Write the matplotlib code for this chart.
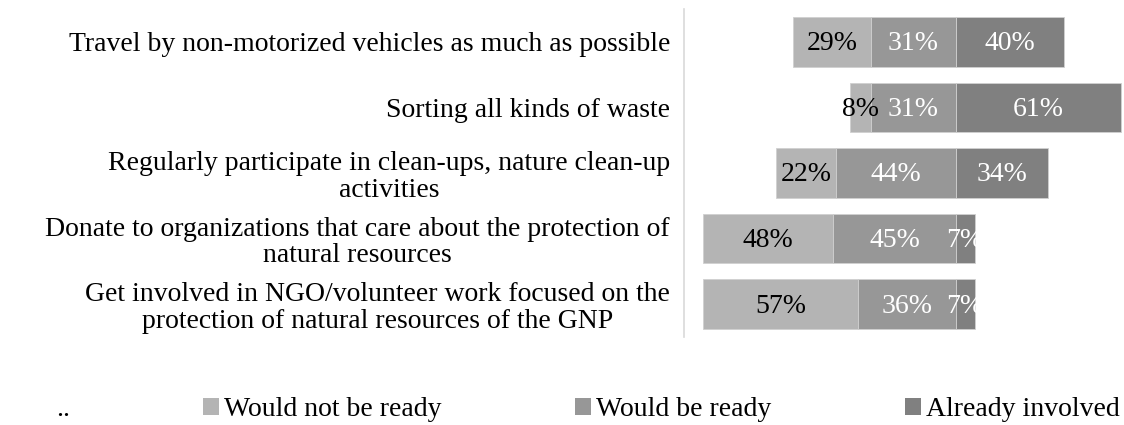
import matplotlib
matplotlib.use("Agg")
import matplotlib.pyplot as plt
from matplotlib.patches import Rectangle, Patch

plt.rcParams['font.family'] = ['Liberation Serif', 'DejaVu Serif']

# Data
categorias = [
    "Travel by non-motorized vehicles as much as possible",
    "Sorting all kinds of waste",
    "Regularly participate in clean-ups, nature clean-up\nactivities",
    "Donate to organizations that care about the protection of\nnatural resources",
    "Get involved in NGO/volunteer work focused on the\nprotection of natural resources of the GNP",
]
no_listo = [29, 8, 22, 48, 57]
listo = [31, 31, 44, 45, 36]
ya_involucrado = [40, 61, 34, 7, 7]

series = ["Would not be ready", "Would be ready", "Already involved"]
colores = ["#B4B4B4", "#979797", "#808080"]
color_txt = ["black", "white", "white"]

fig = plt.figure(figsize=(11.24, 4.25), dpi=100)
ax = fig.add_axes([684 / 1124, 1 - 337 / 425, 440 / 1124, 328 / 425])

y = list(range(len(categorias)))
alto = 0.755

for i in y:
    vals = [no_listo[i], listo[i], ya_involucrado[i]]
    inicio = -(no_listo[i] + listo[i])
    izq = inicio
    # rectangulo para recortar las etiquetas
    caja = Rectangle((inicio, i - alto / 2), sum(vals), alto, transform=ax.transData)
    for j, v in enumerate(vals):
        ax.barh(i, v, left=izq, height=alto, color=colores[j],
                edgecolor="#D0D0D0", linewidth=0.6)
        t = ax.text(izq + v / 2, i + 0.03, f"{v}%", ha="center", va="center",
                    fontsize=20, color=color_txt[j])
        t.set_clip_path(caja)
        izq += v

ax.set_xlim(-100, 62)
ax.set_ylim(4.5, -0.5)
ax.set_yticks(y)
ax.set_yticklabels(categorias, fontsize=20, multialignment="center", linespacing=1.1)
ax.tick_params(axis="y", length=0, pad=10)
ax.set_xticks([])
for s in ["top", "right", "bottom"]:
    ax.spines[s].set_visible(False)
ax.spines["left"].set_color("#D9D9D9")
ax.spines["left"].set_linewidth(1.2)

# Leyenda
handles = [Patch(facecolor="none", edgecolor="none")] + \
          [Patch(facecolor=c, edgecolor="none") for c in colores]
etiquetas = [".."] + series
fig.legend(handles, etiquetas, loc="center", bbox_to_anchor=(0.5135, 1 - 410 / 425),
           ncol=4, frameon=False, fontsize=20, handlelength=0.58, handleheight=0.55,
           handletextpad=0.18, columnspacing=4.8, borderpad=0, borderaxespad=0)

fig.savefig("out.png", dpi=100)
